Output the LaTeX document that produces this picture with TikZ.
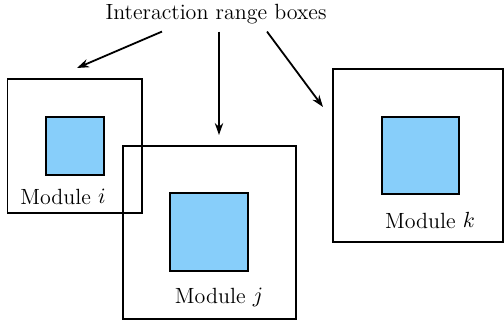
\documentclass[tikz,border=0pt]{standalone}
\usetikzlibrary{positioning, arrows.meta}
\definecolor{modblue}{RGB}{135,206,250}
\tikzset{
  rangebox/.style={draw=black, line width=0.9pt, inner sep=0pt},
  module/.style={draw=black, fill=modblue, line width=0.9pt, inner sep=0pt},
  modlabel/.style={inner sep=0pt, anchor=base},
  pointer/.style={-{Stealth[length=6pt, width=4.2pt]}, line width=0.9pt}
}

\begin{document}
\begin{tikzpicture}[x=1pt, y=1pt, font=\fontsize{11}{13}\selectfont]
\useasboundingbox (0,0) rectangle (252,161);

% interaction ranges
\node[rangebox, minimum width=67.25pt, minimum height=67pt](rangei) at (37.4,88){};
\node[rangebox, minimum size=86.5pt](rangej) at (104.75,44.75){};
\node[rangebox, minimum width=85pt, minimum height=86.5pt](rangek) at (209,83.25){};

% modules inside them
\node[module, minimum size=29pt](modi) at (37.5,88){};
\node[module, minimum size=39pt](modj) at (104.5,45){};
\node[module, minimum size=38.5pt](modk) at (210.25,83.25){};

\node[modlabel](labi) at (31.5,59){Module $i$};
\node[modlabel](labj) at (109.5,9.5){Module $j$};
\node[modlabel](labk) at (215,47){Module $k$};

\node[anchor=base](title) at (108,151){Interaction range boxes};

% arrow ends
\coordinate (toi) at (38.5,127);
\coordinate (toj) at (109.5,93.5);
\coordinate (tok) at (161.5,107.5);

\draw[pointer] ([xshift=-27pt]title.south) -- (toi);
\draw[pointer] ([xshift=1.5pt]title.south) -- (toj);
\draw[pointer] ([xshift=25.5pt]title.south) -- (tok);
\end{tikzpicture}
\end{document}
